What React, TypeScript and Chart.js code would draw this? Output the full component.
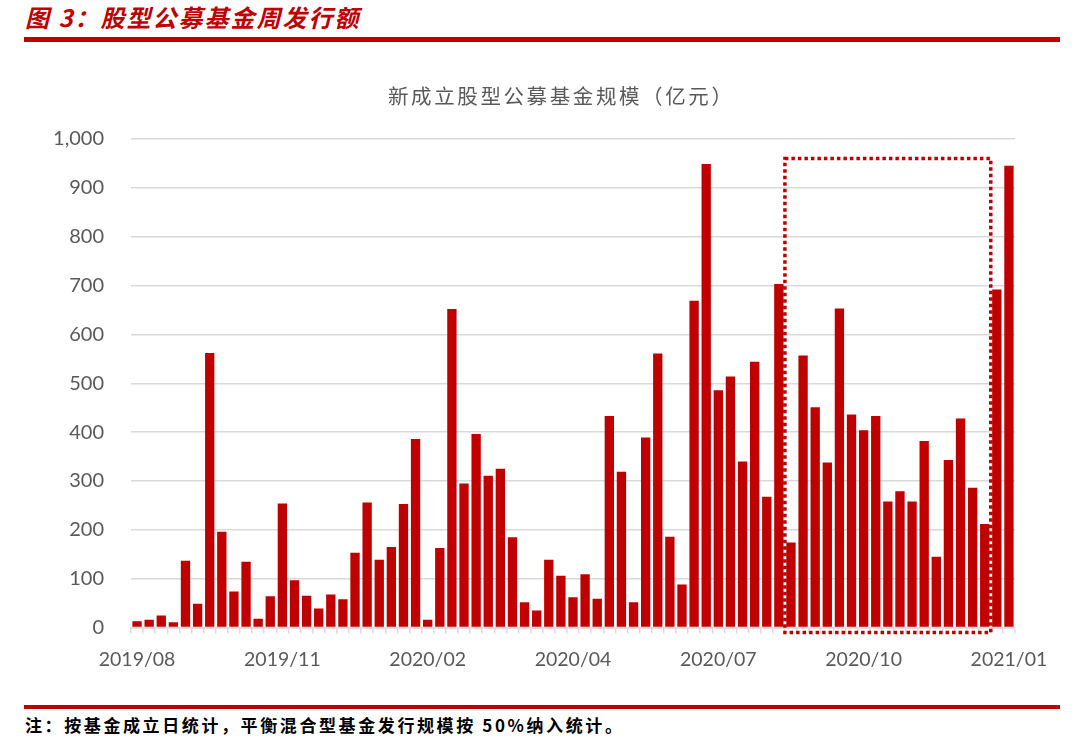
import React, { useEffect, useRef } from "react";
import { Chart, registerables } from "chart.js";

Chart.register(...registerables);

// Weekly issuance of new equity mutual funds (亿元), 2019/08 – 2021/01
const issuance: number[] = [
  13, 16, 25, 11, 137, 49, 562, 196, 74, 135, 18, 64, 254, 97, 65, 39, 68, 58,
  153, 256, 139, 165, 253, 386, 16, 163, 652, 295, 396, 311, 325, 185, 52, 35, 139, 106, 62,
  109, 59, 433, 319, 52, 389, 561, 186, 88, 669, 949, 486, 514, 340, 544, 268, 703,
  174, 557, 451, 338, 653, 436, 404, 433, 258, 279, 258, 382, 145, 343, 428, 286, 212, 692, 945,
];

// Date labels shown under every 12th week
const tickLabels: string[] = ["2019/08", "2019/11", "2020/02", "2020/04", "2020/07", "2020/10", "2021/01"];
const labelEvery = 12;

const categories: string[] = issuance.map((_, i) =>
  i % labelEvery === 0 ? tickLabels[i / labelEvery] ?? "" : ""
);

// Highlighted range (dotted box): first and last week index inside, top value
const highlightStart = 54;
const highlightEnd = 70;
const highlightTop = 960;
const highlightBottom = -10;

const chartTitle = "新成立股型公募基金规模（亿元）";
const figureTitle = "图 3：股型公募基金周发行额";
const footnote = "注：按基金成立日统计，平衡混合型基金发行规模按 50%纳入统计。";

const RED = "#C00000";
const GREY = "#595959";
const GRID = "#D9D9D9";

const boxPlugin = {
  id: "highlightBox",
  afterDatasetsDraw(chart: any) {
    const x = chart.scales.x;
    const y = chart.scales.y;
    const left = (x.getPixelForValue(highlightStart - 1) + x.getPixelForValue(highlightStart)) / 2;
    const right = (x.getPixelForValue(highlightEnd) + x.getPixelForValue(highlightEnd + 1)) / 2;
    const top = y.getPixelForValue(highlightTop);
    const bottom = y.getPixelForValue(highlightBottom);
    const ctx = chart.ctx;
    ctx.save();
    ctx.strokeStyle = RED;
    ctx.lineWidth = 3.5;
    ctx.setLineDash([3.5, 3]);
    ctx.strokeRect(left, top, right - left, bottom - top);
    ctx.restore();
  },
};

export default function App() {
  const canvasRef = useRef<HTMLCanvasElement | null>(null);

  useEffect(() => {
    if (!canvasRef.current) return;
    const chart = new Chart(canvasRef.current, {
      type: "bar",
      data: {
        labels: categories,
        datasets: [
          {
            data: issuance,
            backgroundColor: RED,
            borderWidth: 0,
            barPercentage: 0.77,
            categoryPercentage: 1,
          },
        ],
      },
      options: {
        animation: false,
        responsive: false,
        maintainAspectRatio: false,
        layout: { padding: { left: 51, right: 65, top: 79, bottom: 5 } },
        plugins: {
          legend: { display: false },
          tooltip: { enabled: false },
          title: { display: false },
        },
        scales: {
          x: {
            grid: {
              display: true,
              drawOnChartArea: false,
              offset: true,
              drawTicks: true,
              tickLength: 6,
              color: GRID,
              lineWidth: 1.5,
            },
            border: { display: true, color: GRID, width: 1.5 },
            ticks: {
              autoSkip: false,
              maxRotation: 0,
              minRotation: 0,
              padding: 14,
              color: GREY,
              font: { family: "Lato, 'Noto Sans', sans-serif", size: 19.5 },
            },
          },
          y: {
            min: 0,
            max: 1000,
            afterFit: (scale: any) => {
              scale.width = 80;
            },
            grid: { color: GRID, lineWidth: 1.5, drawTicks: false },
            border: { display: false },
            ticks: {
              stepSize: 100,
              padding: 27,
              color: GREY,
              font: { family: "Lato, 'Noto Sans', sans-serif", size: 20 },
              callback: (v: any) => Number(v).toLocaleString("en-US"),
            },
          },
        },
      },
      plugins: [boxPlugin],
    });
    return () => chart.destroy();
  }, []);

  return (
    <div
      style={{
        position: "fixed",
        left: 0,
        top: 0,
        width: 1080,
        height: 741,
        background: "#fff",
        overflow: "hidden",
      }}
    >
      <div
        style={{
          position: "absolute",
          left: 25,
          top: 2,
          fontFamily: "'Noto Sans CJK SC', sans-serif",
          fontSize: 24,
          fontWeight: 700,
          fontStyle: "italic",
          letterSpacing: 2,
          lineHeight: "30px",
          color: RED,
          whiteSpace: "nowrap",
        }}
      >
        {figureTitle}
      </div>
      <div style={{ position: "absolute", left: 24, top: 37, width: 1036, height: 5, background: RED }} />
      <canvas
        ref={canvasRef}
        width={1080}
        height={630}
        style={{ position: "absolute", left: 0, top: 60, width: 1080, height: 630 }}
      />
      <div
        style={{
          position: "absolute",
          left: 388,
          top: 81,
          fontFamily: "'Noto Sans CJK SC', sans-serif",
          fontSize: 20.5,
          letterSpacing: 2.6,
          lineHeight: "28px",
          color: GREY,
          whiteSpace: "nowrap",
        }}
      >
        {chartTitle}
      </div>
      <div style={{ position: "absolute", left: 24, top: 705, width: 1036, height: 3.5, background: RED }} />
      <div
        style={{
          position: "absolute",
          left: 25,
          top: 713,
          fontFamily: "'Noto Sans CJK SC', sans-serif",
          fontSize: 17,
          fontWeight: 700,
          letterSpacing: 2.6,
          lineHeight: "24px",
          color: "#000",
          whiteSpace: "nowrap",
        }}
      >
        {footnote}
      </div>
    </div>
  );
}
